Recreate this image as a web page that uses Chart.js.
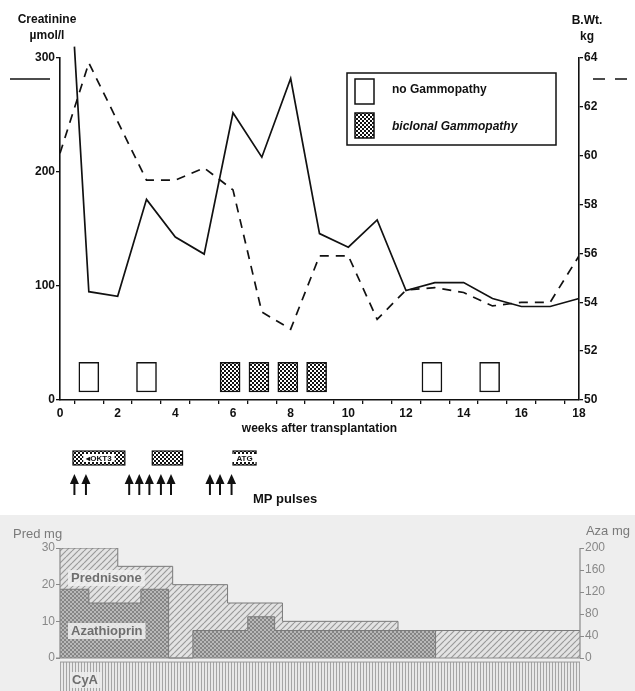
<!DOCTYPE html>
<html>
<head>
<meta charset="utf-8">
<script src="https://cdn.jsdelivr.net/npm/chart.js@4.4.0/dist/chart.umd.min.js"></script>
<style>
  body { margin: 0; background: #fff; width: 635px; height: 691px; overflow: hidden; }
  #top { position: absolute; left: 0; top: 0; }
  #bottom { position: absolute; left: 0; top: 515px; width: 635px; height: 176px; background: #eeeeee; }
</style>
</head>
<body>
<div id="top"><canvas id="topChart" width="635" height="515"></canvas></div>
<div id="bottom"><canvas id="bottomChart" width="635" height="176"></canvas></div>
<script>
// creatinine (solid line, left axis)
const creatWeeks = [0.5, 1, 2, 3, 4, 5, 6, 7, 8, 9, 10, 11, 12, 13, 14, 15, 16, 17, 18];
const creatinine = [310, 95, 91, 176, 143, 128, 252, 213, 282, 146, 134, 158, 96, 103, 103, 89, 82, 82, 89];

// body weight (dashed line, right axis)
const weightWeeks = [0, 1, 3, 4, 5, 6, 7, 8, 9, 10, 11, 12, 13, 14, 15, 16, 17, 18];
const bodyWeight = [60.1, 63.8, 59, 59, 59.5, 58.6, 53.6, 52.9, 55.9, 55.9, 53.3, 54.5, 54.6, 54.4, 53.85, 54, 54, 55.9];

// gammopathy boxes
const noGammaWeeks = [1, 3, 12.9, 14.9];
const biclonalWeeks = [5.9, 6.9, 7.9, 8.9];
const gammaBand = [7, 33];

// therapy below the axis
const therapyStart = [0.45, 3.2, 6.0];
const therapyEnd = [2.25, 4.25, 6.8];
const therapyLabel = ['OKT3', '', 'ATG'];
const mpPulseWeeks = [0.5, 0.9, 2.4, 2.75, 3.1, 3.5, 3.85, 5.2, 5.55, 5.95];

// immunosuppression panel
const predWeeks = [0, 2, 3.9, 5.8, 7.7, 11.7, 18];
const predDose = [30, 25, 20, 15, 10, 7.5, 7.5];
const azaWeeks = [0, 1, 2.8, 3.76, 4.6, 6.5, 7.43, 13];
const azaDose = [125, 100, 125, 0, 50, 75, 50, 0];
const cyaWeeks = [0, 18];

const FONT = '"Liberation Sans", Arial, sans-serif';

function makePattern(size, draw) {
    const c = document.createElement('canvas');
    c.width = size; c.height = size;
    const g = c.getContext('2d');
    draw(g, size);
    return g.createPattern(c, 'repeat');
}

const stipple = makePattern(4, function (g) {
    g.fillStyle = '#111'; g.fillRect(0, 0, 4, 4);
    g.fillStyle = '#fff'; g.fillRect(0, 0, 2, 2); g.fillRect(2, 2, 2, 2);
});
const azaPattern = makePattern(4, function (g) {
    g.fillStyle = '#b8b8b8'; g.fillRect(0, 0, 4, 4);
    g.fillStyle = '#858585'; g.fillRect(0, 0, 2, 2); g.fillRect(2, 2, 2, 2);
});
const hatch = makePattern(6, function (g, s) {
    g.fillStyle = '#e3e3e3'; g.fillRect(0, 0, s, s);
    g.strokeStyle = '#9a9a9a'; g.lineWidth = 1.2;
    for (let o = -s; o <= s; o += s) {
        g.beginPath(); g.moveTo(o, s); g.lineTo(o + s, 0); g.stroke();
    }
});
const cyaPattern = makePattern(3, function (g) {
    g.fillStyle = '#e8e8e8'; g.fillRect(0, 0, 3, 3);
    g.fillStyle = '#a5a5a5'; g.fillRect(0, 0, 1, 3);
});

function pts(xs, ys) {
    return xs.map((x, i) => ({ x: x, y: ys[i] }));
}

// extra drawing for the upper chart: axis headers, key, therapy row
const topDecor = {
    id: 'topDecor',
    afterDraw(chart) {
        const ctx = chart.ctx;
        const xs = chart.scales.x;
        const area = chart.chartArea;
        ctx.save();
        ctx.fillStyle = '#111';
        ctx.strokeStyle = '#111';
        ctx.font = 'bold 12px ' + FONT;
        ctx.textAlign = 'center';
        ctx.textBaseline = 'middle';
        ctx.fillText('Creatinine', area.left - 13, 20);
        ctx.fillText('µmol/l', area.left - 13, 36);
        ctx.fillText('B.Wt.', area.right + 8, 21);
        ctx.fillText('kg', area.right + 8, 37);

        // line style marks
        ctx.lineWidth = 1.4;
        ctx.beginPath(); ctx.moveTo(10, 79); ctx.lineTo(50, 79); ctx.stroke();
        ctx.setLineDash([12, 10]);
        ctx.beginPath(); ctx.moveTo(area.right + 14, 79); ctx.lineTo(area.right + 48, 79); ctx.stroke();
        ctx.setLineDash([]);

        // key
        ctx.lineWidth = 1.5;
        ctx.strokeRect(347, 73, 209, 72);
        ctx.fillStyle = '#fff';
        ctx.fillRect(355, 79, 19, 25); ctx.strokeRect(355, 79, 19, 25);
        ctx.fillStyle = stipple;
        ctx.fillRect(355, 113, 19, 25); ctx.strokeRect(355, 113, 19, 25);
        ctx.fillStyle = '#111';
        ctx.textAlign = 'left';
        ctx.fillText('no Gammopathy', 392, 90);
        ctx.font = 'italic bold 12px ' + FONT;
        ctx.fillText('biclonal Gammopathy', 392, 127);

        // therapy blocks
        ctx.lineWidth = 1.2;
        therapyStart.forEach(function (s, i) {
            const x0 = xs.getPixelForValue(s);
            const x1 = xs.getPixelForValue(therapyEnd[i]);
            ctx.fillStyle = stipple;
            ctx.fillRect(x0, 451, x1 - x0, 14);
            ctx.strokeRect(x0, 451, x1 - x0, 14);
            if (therapyLabel[i]) {
                ctx.font = 'bold 8px ' + FONT;
                const tw = ctx.measureText(therapyLabel[i]).width + 10;
                const cx = (x0 + x1) / 2;
                ctx.fillStyle = '#fff';
                ctx.fillRect(cx - tw / 2, 454, tw, 8);
                ctx.fillStyle = '#111';
                ctx.textAlign = 'center';
                ctx.fillText((i === 0 ? '◂' : '') + therapyLabel[i], cx, 458.5);
            }
        });

        // methylprednisolone pulses
        ctx.fillStyle = '#111';
        ctx.lineWidth = 2;
        mpPulseWeeks.forEach(function (w) {
            const px = xs.getPixelForValue(w);
            ctx.beginPath();
            ctx.moveTo(px, 474); ctx.lineTo(px - 4.5, 484); ctx.lineTo(px + 4.5, 484);
            ctx.closePath(); ctx.fill();
            ctx.beginPath(); ctx.moveTo(px, 482); ctx.lineTo(px, 495); ctx.stroke();
        });
        ctx.font = 'bold 13px ' + FONT;
        ctx.textAlign = 'left';
        ctx.fillText('MP pulses', 253, 499);
        ctx.restore();
    }
};

new Chart(document.getElementById('topChart'), {
    type: 'line',
    data: {
        datasets: [
            {
                label: 'Creatinine',
                data: pts(creatWeeks, creatinine),
                borderColor: '#111',
                borderWidth: 1.7,
                pointRadius: 0,
                tension: 0,
                yAxisID: 'y',
                clip: false
            },
            {
                label: 'B.Wt.',
                data: pts(weightWeeks, bodyWeight),
                borderColor: '#111',
                borderWidth: 1.7,
                borderDash: [9, 7],
                pointRadius: 0,
                tension: 0,
                yAxisID: 'y1'
            },
            {
                type: 'bar',
                label: 'no Gammopathy',
                data: noGammaWeeks.map(w => ({ x: w, y: gammaBand })),
                backgroundColor: '#fff',
                borderColor: '#111',
                borderWidth: 1.5,
                borderSkipped: false,
                barThickness: 20,
                grouped: false,
                yAxisID: 'y'
            },
            {
                type: 'bar',
                label: 'biclonal Gammopathy',
                data: biclonalWeeks.map(w => ({ x: w, y: gammaBand })),
                backgroundColor: stipple,
                borderColor: '#111',
                borderWidth: 1.5,
                borderSkipped: false,
                barThickness: 20,
                grouped: false,
                yAxisID: 'y'
            }
        ]
    },
    options: {
        responsive: false,
        animation: false,
        layout: { padding: { top: 58, bottom: 75, left: 0, right: 0 } },
        plugins: { legend: { display: false }, tooltip: { enabled: false } },
        scales: {
            x: {
                type: 'linear',
                min: 0,
                max: 18,
                offset: false,
                afterFit: s => { s.height = 40; },
                ticks: {
                    stepSize: 1,
                    autoSkip: false,
                    maxRotation: 0,
                    padding: 2,
                    color: '#111',
                    font: { family: FONT, size: 12, weight: 'bold' },
                    callback: v => (v % 2 === 0 ? v : '')
                },
                grid: { drawOnChartArea: false, tickLength: 4, color: '#111', lineWidth: 1.3 },
                border: { color: '#111', width: 1.6 },
                title: {
                    display: true,
                    text: 'weeks after transplantation',
                    color: '#111',
                    font: { family: FONT, size: 12, weight: 'bold' },
                    padding: { top: 0, bottom: 4 }
                }
            },
            y: {
                position: 'left',
                min: 0,
                max: 300,
                afterFit: s => { s.width = 60; },
                ticks: {
                    stepSize: 100,
                    padding: 1,
                    color: '#111',
                    font: { family: FONT, size: 12, weight: 'bold' }
                },
                grid: { drawOnChartArea: false, tickLength: 4, color: '#111', lineWidth: 1.3 },
                border: { color: '#111', width: 1.6 }
            },
            y1: {
                position: 'right',
                min: 50,
                max: 64,
                afterFit: s => { s.width = 56; },
                ticks: {
                    stepSize: 2,
                    padding: 1,
                    color: '#111',
                    font: { family: FONT, size: 12, weight: 'bold' }
                },
                grid: { drawOnChartArea: false, tickLength: 4, color: '#111', lineWidth: 1.3 },
                border: { color: '#111', width: 1.6 }
            }
        }
    },
    plugins: [topDecor]
});

// lower panel: axis lines, headers, series names
const bottomDecor = {
    id: 'bottomDecor',
    afterDraw(chart) {
        const ctx = chart.ctx;
        const y = chart.scales.y;
        const y2 = chart.scales.y2;
        const area = chart.chartArea;
        ctx.save();
        ctx.strokeStyle = '#8a8a8a';
        ctx.lineWidth = 1.2;
        ctx.beginPath();
        ctx.moveTo(area.left, y.getPixelForValue(0)); ctx.lineTo(area.left, y.getPixelForValue(30));
        ctx.moveTo(area.right, y2.getPixelForValue(0)); ctx.lineTo(area.right, y2.getPixelForValue(200));
        ctx.moveTo(area.left - 4, y.getPixelForValue(0)); ctx.lineTo(area.right, y.getPixelForValue(0));
        ctx.stroke();

        ctx.fillStyle = '#7a7a7a';
        ctx.font = '13px ' + FONT;
        ctx.textBaseline = 'middle';
        ctx.textAlign = 'left';
        ctx.fillText('Pred mg', 13, 19);
        ctx.textAlign = 'right';
        ctx.fillText('Aza mg', 630, 16);

        ctx.font = 'bold 13px ' + FONT;
        ctx.textAlign = 'left';
        [['Prednisone', 63], ['Azathioprin', 116]].forEach(function (t) {
            const w = ctx.measureText(t[0]).width;
            ctx.fillStyle = 'rgba(240,240,240,0.85)';
            ctx.fillRect(area.left + 8, t[1] - 8, w + 6, 16);
            ctx.fillStyle = '#6e6e6e';
            ctx.fillText(t[0], area.left + 11, t[1]);
        });
        ctx.fillStyle = 'rgba(236,236,236,0.9)';
        ctx.fillRect(area.left + 10, 157, 32, 16);
        ctx.fillStyle = '#6e6e6e';
        ctx.fillText('CyA', area.left + 12, 165);
        ctx.restore();
    }
};

function noEdgePadding(s) {
    s.paddingTop = 0;
    s.paddingBottom = 0;
}

new Chart(document.getElementById('bottomChart'), {
    type: 'line',
    data: {
        datasets: [
            {
                label: 'Azathioprin',
                data: pts(azaWeeks, azaDose),
                stepped: 'before',
                fill: 'origin',
                backgroundColor: azaPattern,
                borderColor: '#7a7a7a',
                borderWidth: 1,
                pointRadius: 0,
                yAxisID: 'y2'
            },
            {
                label: 'Prednisone',
                data: pts(predWeeks, predDose),
                stepped: 'before',
                fill: 'origin',
                backgroundColor: hatch,
                borderColor: '#7a7a7a',
                borderWidth: 1,
                pointRadius: 0,
                yAxisID: 'y'
            },
            {
                label: 'CyA',
                data: cyaWeeks.map(w => ({ x: w, y: -1.1 })),
                fill: 'start',
                backgroundColor: cyaPattern,
                borderColor: '#9a9a9a',
                borderWidth: 1,
                pointRadius: 0,
                yAxisID: 'y'
            }
        ]
    },
    options: {
        responsive: false,
        animation: false,
        layout: { padding: { top: 33, bottom: 0, left: 0, right: 0 } },
        plugins: { legend: { display: false }, tooltip: { enabled: false } },
        scales: {
            x: { type: 'linear', min: 0, max: 18, display: false },
            y: {
                position: 'left',
                min: -9,
                max: 30,
                afterFit: s => { s.width = 60; noEdgePadding(s); },
                afterBuildTicks: s => { s.ticks = [0, 10, 20, 30].map(v => ({ value: v })); },
                ticks: { padding: 1, color: '#888', font: { family: FONT, size: 12 } },
                grid: { drawOnChartArea: false, tickLength: 4, color: '#8a8a8a' },
                border: { display: false }
            },
            y2: {
                position: 'right',
                min: -60,
                max: 200,
                afterFit: s => { s.width = 55; noEdgePadding(s); },
                afterBuildTicks: s => { s.ticks = [0, 40, 80, 120, 160, 200].map(v => ({ value: v })); },
                ticks: { padding: 1, color: '#888', font: { family: FONT, size: 12 } },
                grid: { drawOnChartArea: false, tickLength: 4, color: '#8a8a8a' },
                border: { display: false }
            }
        }
    },
    plugins: [bottomDecor]
});
</script>
</body>
</html>
